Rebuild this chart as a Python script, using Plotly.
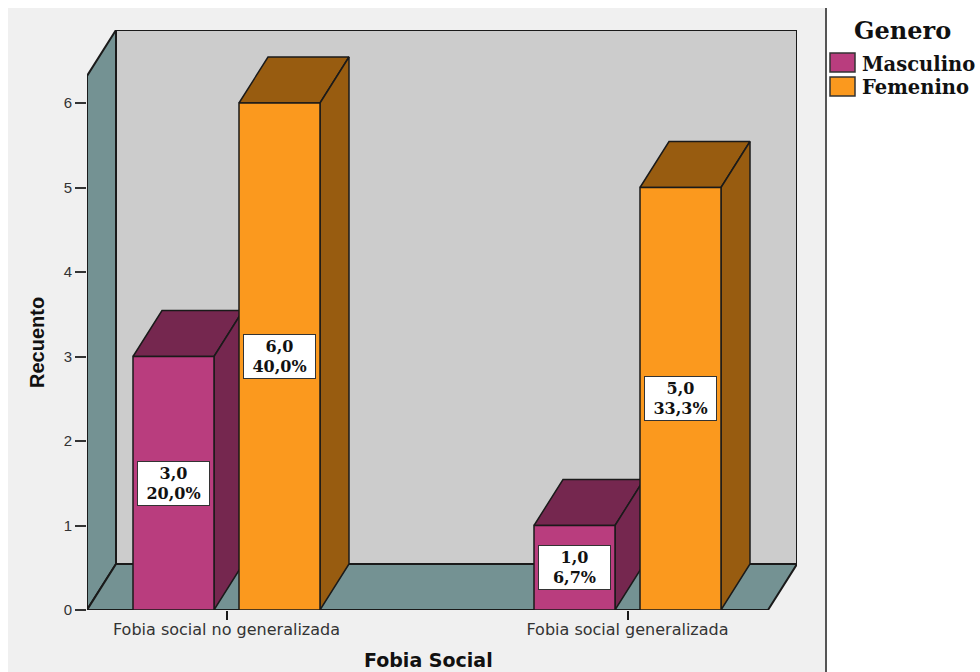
import plotly.graph_objects as go

# Chart values
categories = ["Fobia social no generalizada", "Fobia social generalizada"]
series_names = ["Masculino", "Femenino"]
masculino_counts = [3, 1]
femenino_counts = [6, 5]
masculino_pct = [20.0, 6.7]
femenino_pct = [40.0, 33.3]
y_ticks = [0, 1, 2, 3, 4, 5, 6]

# Styling
FRONT = {"Masculino": "#B93D7E", "Femenino": "#FB991E"}
SHADE = {"Masculino": "#75274F", "Femenino": "#985C10"}
WALL_BACK = "#CCCCCC"
WALL_SIDE = "#749293"
PANEL = "#F0F0F0"
INK = "#1A1A1A"

# Oblique projection and frame geometry
W, H = 980, 672
LEFT, RIGHT, TOP, BOTTOM = 87, 797, 30, 610
UNIT_X = 401.0
UNIT_Y = 84.5
X0_PX = 226.5
DX = 29 / UNIT_X
DY = 46 / UNIT_Y
BAR_W = 81 / UNIT_X
OFFSETS = {"Masculino": -93.5 / UNIT_X, "Femenino": 12.5 / UNIT_X}
X_MIN = (LEFT - X0_PX) / UNIT_X
X_MAX = (RIGHT - X0_PX) / UNIT_X
Y_MAX = (BOTTOM - TOP) / UNIT_Y
# Extent of the front plane of the box; the back wall sits DX/DY behind it
X_FRONT = X_MAX - DX
Y_FRONT = Y_MAX - DY


def poly(xs, ys, fill, width=1.5, name=None):
    return go.Scatter(
        x=xs + xs[:1], y=ys + ys[:1], mode="lines", fill="toself", fillcolor=fill,
        line=dict(color=INK, width=width), cliponaxis=False, showlegend=False,
        hoverinfo="skip", name=name,
    )


fig = go.Figure()

# Chart box: back wall, side wall and floor
fig.add_trace(poly([X_MIN + DX, X_MAX, X_MAX, X_MIN + DX], [DY, DY, Y_MAX, Y_MAX], WALL_BACK, 2))
fig.add_trace(poly([X_MIN, X_MIN + DX, X_MIN + DX, X_MIN], [0, DY, Y_MAX, Y_FRONT], WALL_SIDE, 2))
fig.add_trace(poly([X_MIN, X_MIN + DX, X_MAX, X_FRONT], [0, DY, DY, 0], WALL_SIDE, 2))

# Each bar is a prism: top, side, then front face with its value box
values = {"Masculino": masculino_counts, "Femenino": femenino_counts}
percents = {"Masculino": masculino_pct, "Femenino": femenino_pct}
annotations = []
for i in range(len(categories)):
    for name in series_names:
        v = values[name][i]
        x0 = i + OFFSETS[name]
        x1 = x0 + BAR_W
        fig.add_trace(poly([x0, x0 + DX, x1 + DX, x1], [v, v + DY, v + DY, v], SHADE[name], name=name))
        fig.add_trace(poly([x1, x1 + DX, x1 + DX, x1], [0, DY, v + DY, v], SHADE[name], name=name))
        fig.add_trace(poly([x0, x1, x1, x0], [0, 0, v, v], FRONT[name], name=name))
        label = f"{v:.1f}<br>{percents[name][i]:.1f}%".replace(".", ",")
        annotations.append(dict(
            x=(x0 + x1) / 2, y=v / 2, xref="x", yref="y", showarrow=False,
            text=f"<b>{label}</b>",
            font=dict(family="DejaVu Serif", size=16, color="#111111"),
            bgcolor="white", bordercolor="#333333", borderwidth=1, borderpad=0,
            width=71, height=43, align="center", valign="middle",
        ))


def px_x(px):
    return (px - LEFT) / (RIGHT - LEFT)


def px_y(py):
    return (BOTTOM - py) / (BOTTOM - TOP)


def page_text(x, y, text, font, size, xanchor="center", angle=0):
    return dict(
        xref="paper", yref="paper", x=px_x(x), y=px_y(y), xanchor=xanchor, yanchor="middle",
        showarrow=False, textangle=angle, text=f"<b>{text}</b>",
        font=dict(family=font, size=size, color="#111111"),
    )


# Chart panel and the rule that separates it from the legend
shapes = [
    dict(type="rect", xref="paper", yref="paper", layer="below", line_width=0, fillcolor=PANEL,
         x0=px_x(8), x1=px_x(826), y0=px_y(672), y1=px_y(8)),
    dict(type="line", xref="paper", yref="paper", line=dict(color="#555555", width=2),
         x0=px_x(826), x1=px_x(826), y0=px_y(672), y1=px_y(8)),
]

# Axis titles, centred on the front plane of the box
annotations.append(page_text(428, 660, "Fobia Social", "DejaVu Sans", 19))
annotations.append(page_text(37, 343, "Recuento", "Liberation Sans", 20, angle=-90))

# Legend block
annotations.append(page_text(902, 30, "Genero", "DejaVu Serif", 24))
for name, top, mid in zip(series_names, [53, 77], [64, 88]):
    shapes.append(dict(type="rect", xref="paper", yref="paper", fillcolor=FRONT[name],
                       line=dict(color="#333333", width=1.5),
                       x0=px_x(830), x1=px_x(855), y0=px_y(top + 19), y1=px_y(top)))
    annotations.append(page_text(860, mid, name, "DejaVu Serif", 19.5, xanchor="left"))

fig.update_layout(
    width=W, height=H, autosize=False,
    margin=dict(l=LEFT, r=W - RIGHT, t=TOP, b=H - BOTTOM, autoexpand=False),
    paper_bgcolor="white", plot_bgcolor="rgba(0,0,0,0)",
    showlegend=False, shapes=shapes, annotations=annotations,
    xaxis=dict(
        range=[X_MIN, X_MAX], tickmode="array", tickvals=list(range(len(categories))),
        ticktext=categories, ticks="outside", ticklen=9, tickwidth=1.5, tickcolor=INK,
        ticklabelstandoff=-4,
        showgrid=False, zeroline=False, showline=False, automargin=False,
        tickfont=dict(family="DejaVu Sans", size=16, color="#333333"),
    ),
    yaxis=dict(
        range=[0, Y_MAX], tickmode="array", tickvals=y_ticks, ticks="outside", ticklen=11,
        tickwidth=1.5, tickcolor="#333333", showgrid=False, zeroline=False, showline=False,
        automargin=False,
        tickfont=dict(family="Liberation Sans", size=15, color="#333333"),
    ),
)

fig.write_html("out.html")
